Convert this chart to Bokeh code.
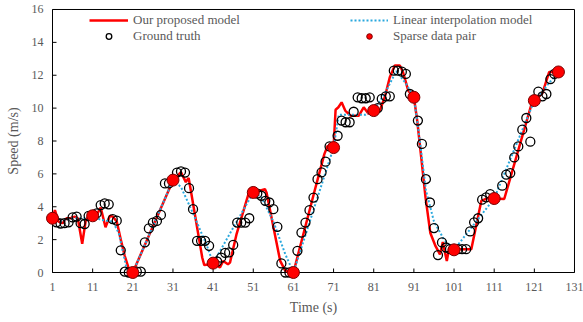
import math
from bokeh.plotting import figure
from bokeh.models import Legend, LegendItem, FixedTicker, Range1d
from bokeh.embed import file_html
from bokeh.resources import INLINE

# ---------------- data ----------------
x_ticks = [1, 11, 21, 31, 41, 51, 61, 71, 81, 91, 101, 111, 121, 131]
y_ticks = [0, 2, 4, 6, 8, 10, 12, 14, 16]

# Sparse data pairs (red dots)
sparse_t = [1, 11, 21, 31, 41, 51, 61, 71, 81, 91, 101, 111, 121, 127]
sparse_v = [3.3, 3.45, 0.0, 5.62, 0.57, 4.87, 0.0, 7.6, 9.85, 10.66, 1.38, 4.5, 10.46, 12.2]

# Ground truth (open circles)
gt_t = [1, 2, 3, 4, 5, 6, 7, 8, 9, 10,
        11, 12, 13, 14, 15, 16, 17, 18, 19, 20,
        21, 22, 23, 24, 25, 26, 27, 28, 29, 30,
        31, 32, 33, 34, 35, 36, 37, 38, 39, 40,
        41, 42, 43, 44, 45, 46, 47, 48, 49, 50,
        51, 52, 53, 54, 55, 56, 57, 58, 59, 60,
        61, 62, 63, 64, 65, 66, 67, 68, 69, 70,
        71, 72, 73, 74, 75, 76, 77, 78, 79, 80,
        81, 82, 83, 84, 85, 86, 87, 88, 89, 90,
        91, 92, 93, 94, 95, 96, 97, 98, 99, 100,
        101, 102, 103, 104, 105, 106, 107, 108, 109, 110,
        111, 113, 114, 115, 116, 117, 118, 119, 120,
        121, 122, 123, 124, 125, 126, 127]
gt_v = [3.3, 3.05, 2.98, 3.0, 3.05, 3.35, 3.4, 3.0, 2.95, 3.45,
        3.5, 3.6, 4.1, 4.2, 4.15, 3.25, 3.15, 1.35, 0.05, 0.0,
        0.0, 0.05, 0.05, 1.83, 2.68, 3.04, 3.14, 3.5, 5.42, 5.42,
        5.62, 6.08, 6.15, 6.08, 5.13, 3.85, 1.93, 1.93, 1.93, 1.62,
        0.6, 0.67, 0.9, 1.2, 1.22, 1.68, 3.04, 3.04, 3.04, 3.3,
        4.9, 4.8, 4.67, 4.36, 4.26, 3.85, 2.78, 0.55, 0.0, 0.0,
        0.0, 1.32, 2.43, 3.04, 3.79, 4.56, 5.68, 6.09, 6.74, 7.67,
        7.6, 8.32, 9.24, 9.14, 9.14, 9.78, 10.66, 10.6, 10.6, 10.66,
        9.85, 10.0, 10.56, 10.72, 10.72, 12.28, 12.28, 12.22, 12.08, 10.86,
        10.66, 9.24, 7.82, 5.68, 4.26, 2.7, 1.06, 1.83, 1.52, 1.42,
        1.36, 1.42, 1.42, 1.42, 2.5, 3.05, 3.3, 4.43, 4.57, 4.77,
        4.5, 5.28, 5.95, 6.05, 7.0, 7.67, 8.69, 9.4, 7.96,
        10.46, 11.0, 10.72, 10.86, 11.77, 12.08, 12.2]

# Our proposed model (red line)
model_t = [1, 1.6, 2.5, 3.5, 4.5, 5.5, 6.5, 7.3, 8.4, 9.3, 10, 11, 12, 13, 14.2, 15.3, 16, 17, 18, 19,
           20.3, 21, 31, 31.8, 33, 34.2, 34.9, 35.3, 38.3, 38.8, 40.6, 41, 42.7, 43.5, 44.7, 45.2,
           46.8, 49.8, 50.6, 51, 53.9, 54.3, 57.7, 59, 61, 66.2, 68.7, 69.5, 71, 71.5, 72.2, 73,
           73.9, 75.2, 77.3, 78.5, 79.75, 81, 82.5, 83.75, 85, 86.25, 87.5, 88.3, 89.6, 91, 91.8,
           93.1, 93.9, 95.1, 96.4, 97.5, 98.2, 99.2, 99.8, 101, 105.3, 107.8, 109.8, 111, 113.5,
           120.6, 121, 123, 124.7, 127]
model_v = [3.3, 3.8, 3.1, 3.0, 3.3, 3.3, 3.4, 3.3, 1.75, 3.2, 3.4, 3.45, 3.5, 3.95, 2.75, 3.45, 3.4, 3.1, 2.0, 1.0,
           0.0, 0.0, 5.6, 5.8, 6.1, 5.5, 5.75, 5.2, 0.9, 0.45, 0.5, 0.57, 0.3, 0.7, 0.5, 0.6,
           2.3, 4.77, 4.97, 4.87, 5.07, 4.87, 0.71, 0.1, 0.0, 4.9, 7.2, 7.7, 7.6, 9.9, 10.05, 10.35,
           9.85, 9.54, 9.54, 10.05, 9.64, 9.85, 9.85, 10.66, 11.88, 12.59, 12.59, 12.18, 11.06, 10.66, 9.3,
           6.4, 4.57, 2.4, 1.6, 1.1, 1.85, 0.7, 1.52, 1.42, 1.42, 4.36, 4.57, 4.5, 4.47,
           10.5, 10.46, 10.9, 12.2, 12.2]

# Linear interpolation model (blue dotted line)
linear_t = [1, 3, 6, 9, 11, 13, 16, 17.5, 19.5, 21, 31, 33, 36, 39.5, 41, 51, 53, 56, 59, 61,
            71, 72.3, 79, 81, 84, 86.6, 89, 91, 92.5, 94, 96, 98.5, 101, 111, 121, 127]
linear_v = [3.3, 3.1, 3.3, 3.3, 3.45, 3.2, 3.1, 2.4, 0.2, 0.0, 5.62, 5.2, 3.6, 1.6, 0.57, 4.87, 4.6, 3.1, 1.1, 0.0,
            7.6, 9.6, 9.6, 9.85, 11.0, 12.25, 11.5, 10.66, 8.0, 5.0, 3.1, 2.0, 1.38, 4.5, 10.46, 12.2]

# ---------------- figure ----------------
FONT = "Liberation Serif"
GRAY = "#595959"
X0, X1 = x_ticks[0], x_ticks[-1]
Y0, Y1 = y_ticks[0], y_ticks[-1]
PAD_X = 7 / 4.015   # a few pixels of room so edge markers are not clipped
PAD_Y = 7 / 16.44

p = figure(width=583, height=322, output_backend="svg", toolbar_location=None,
           x_range=Range1d(X0 - PAD_X, X1 + PAD_X), y_range=Range1d(Y0 - PAD_Y, Y1 + PAD_Y),
           min_border_left=45, min_border_right=2, min_border_top=2, min_border_bottom=43)

p.background_fill_color = "white"
p.border_fill_color = "white"
p.outline_line_color = None
p.xgrid.visible = False
p.ygrid.visible = False

# plot box and inward ticks, drawn first so that the data sits on top
p.quad(left=[X0], right=[X1], bottom=[Y0], top=[Y1], fill_alpha=0,
       line_color="black", line_width=1)
p.ray(x=[X0] * len(y_ticks), y=y_ticks, length=4, length_units="screen", angle=0,
      line_color="black", line_width=1)
p.ray(x=x_ticks, y=[Y0] * len(x_ticks), length=4, length_units="screen", angle=math.pi / 2,
      line_color="black", line_width=1)

r_model = p.line(model_t, model_v, line_color="#ff0000", line_width=2.5)
r_lin = p.line(linear_t, linear_v, line_color="#29a8dd", line_width=2, line_dash="2 2")
r_gt = p.scatter(gt_t, gt_v, marker="circle", size=9, fill_alpha=0,
                 line_color="black", line_width=1.3)
r_sp = p.scatter(sparse_t, sparse_v, marker="circle", size=12, fill_color="#ff0000",
                 line_color="#7a0000", line_width=1)

for ax, ticks in ((p.xaxis[0], x_ticks), (p.yaxis[0], y_ticks)):
    ax.ticker = FixedTicker(ticks=ticks)
    ax.axis_line_color = None
    ax.major_tick_line_color = None
    ax.minor_tick_line_color = None
    ax.major_tick_in = 0
    ax.major_tick_out = 0
    ax.major_label_text_font = FONT
    ax.major_label_text_font_size = "12px"
    ax.major_label_text_color = GRAY
    ax.axis_label_text_font = FONT
    ax.axis_label_text_font_size = "14px"
    ax.axis_label_text_font_style = "normal"
    ax.axis_label_text_color = GRAY

p.xaxis.axis_label = "Time (s)"
p.yaxis.axis_label = "Speed (m/s)"
p.xaxis.major_label_standoff = 3
p.xaxis.axis_label_standoff = 6
p.yaxis.major_label_standoff = 2
p.yaxis.axis_label_standoff = 8

def make_legend(items, loc, gw):
    return Legend(items=items, location=loc, orientation="vertical",
                  background_fill_alpha=0, border_line_alpha=0,
                  padding=0, margin=0, spacing=0,
                  glyph_width=gw, glyph_height=14, label_height=14,
                  label_standoff=5,
                  label_text_font=FONT, label_text_font_size="13px",
                  label_text_color=GRAY)

leg1 = make_legend([LegendItem(label="Our proposed model", renderers=[r_model]),
                    LegendItem(label="Ground truth", renderers=[r_gt])], (44, 235), 39)
leg2 = make_legend([LegendItem(label="Linear interpolation model", renderers=[r_lin]),
                    LegendItem(label="Sparse data pair", renderers=[r_sp])], (305, 235), 38)
p.add_layout(leg1)
p.add_layout(leg2)

open("out.html", "w").write(file_html(p, INLINE))
